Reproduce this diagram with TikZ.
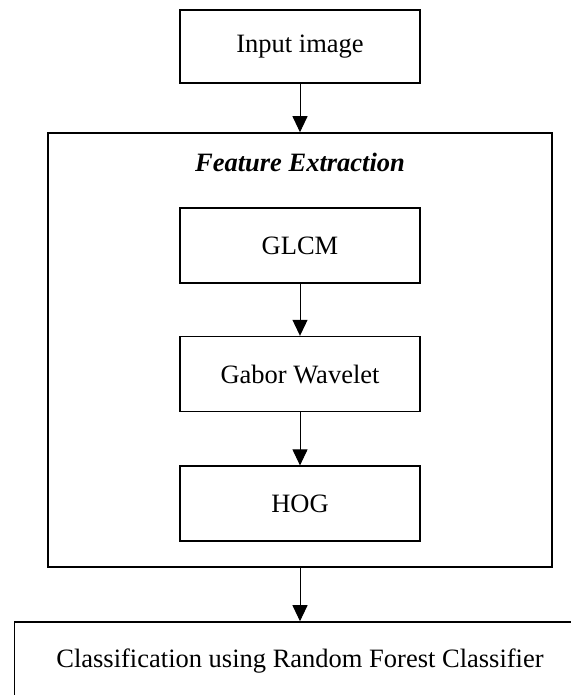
\documentclass[tikz,border=0pt]{standalone}
\usepackage{fontspec}
\setmainfont{Liberation Serif}
\usetikzlibrary{arrows.meta,positioning}

\begin{document}
\begin{tikzpicture}[x=1pt, y=-1pt,
  stage/.style={draw, line width=1.6pt, minimum width=240pt, minimum height=75pt, align=center, inner sep=0pt, font=\fontsize{26.5}{30}\selectfont},
  outer/.style={draw, line width=1.6pt, minimum width=504pt, minimum height=434pt},
  arr/.style={-{Triangle[length=16pt, width=15pt]}, line width=1pt}
]
  \useasboundingbox (0,0) rectangle (570,695);
  \node[stage, minimum height=73pt] (input) at (300,46.5) {Input image};
  \node[outer] (fe) at (300,350) {};
  \node[font=\fontsize{26.5}{30}\selectfont\bfseries\itshape] (fetitle) at (300,162) {Feature Extraction};
  \node[stage] (glcm) at (300,245.5) {GLCM};
  \node[stage, below=52pt of glcm] (gabor) {Gabor Wavelet};
  \node[stage, below=53pt of gabor] (hog) {HOG};
  \node[stage, minimum width=571pt, minimum height=78pt] (rfc) at (300,661) {Classification using Random Forest Classifier};

  \draw[arr] (input) -- (input |- fe.north);
  \draw[arr] (glcm) -- (gabor);
  \draw[arr] (gabor) -- (hog);
  \draw[arr] (fe) -- (rfc);
\end{tikzpicture}
\end{document}
